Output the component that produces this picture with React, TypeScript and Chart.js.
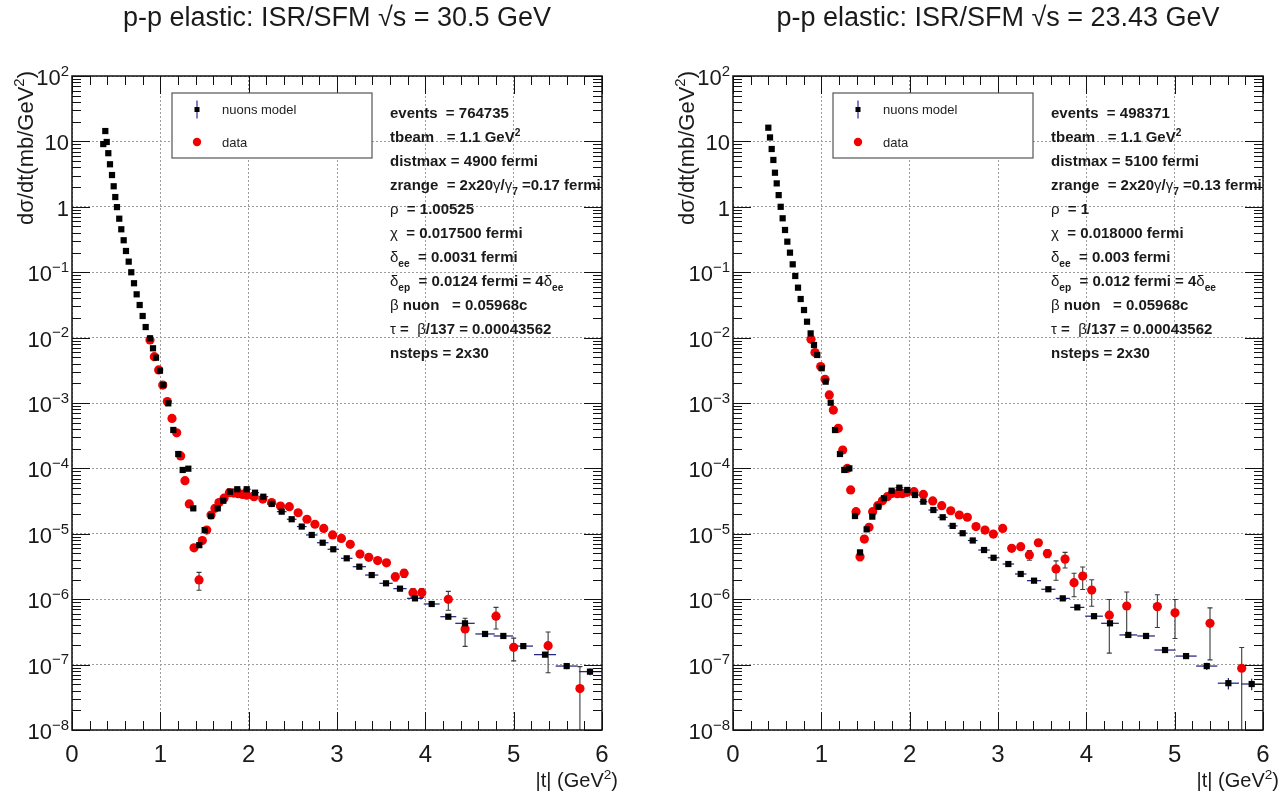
import React, { useEffect, useRef } from 'react';
import { Chart, registerables } from 'chart.js';

Chart.register(...registerables);

const FONT = '"Liberation Sans", Arial, Helvetica, sans-serif';

// ---------- shared axis / label data ----------
const xTickValues = [0, 1, 2, 3, 4, 5, 6];
const yTickExponents = [-8, -7, -6, -5, -4, -3, -2, -1, 0, 1, 2];
const legendLabels = ['nuons model', 'data'];
const yAxisTitle = 'dσ/dt(mb/GeV^{2})';
const xAxisTitle = '|t| (GeV^{2})';

// ---------- left panel: sqrt(s) = 30.5 GeV ----------
const leftTitle = 'p-p elastic: ISR/SFM √s = 30.5 GeV';
const leftModelT = [0.354, 0.377, 0.393, 0.411, 0.430, 0.453, 0.472, 0.490, 0.509, 0.535, 0.558, 0.585, 0.611, 0.642, 0.671, 0.702, 0.732, 0.766, 0.800, 0.834, 0.883, 0.917, 0.951, 0.996, 1.034, 1.090, 1.147, 1.203, 1.253, 1.317, 1.373, 1.441, 1.502, 1.574, 1.650, 1.713, 1.789, 1.871, 1.978, 2.072, 2.166, 2.261, 2.374, 2.487, 2.601, 2.714, 2.838, 2.958, 3.110, 3.253, 3.393, 3.555, 3.713, 3.883, 4.072, 4.260, 4.449, 4.676, 4.883, 5.109, 5.355, 5.600, 5.864];
const leftModelV = [9.1, 14.4, 9.8, 6.6, 4.47, 3.06, 2.06, 1.41, 0.99, 0.658, 0.453, 0.308, 0.211, 0.145, 0.0998, 0.0678, 0.0459, 0.0315, 0.0214, 0.0145, 0.00975, 0.00686, 0.00493, 0.00312, 0.00188, 0.000989, 0.000387, 0.000166, 9.46e-5, 9.9e-5, 2.45e-5, 6.7e-6, 1.14e-5, 1.87e-5, 2.45e-5, 3.2e-5, 4.4e-5, 4.8e-5, 4.8e-5, 4.25e-5, 3.69e-5, 2.86e-5, 2.18e-5, 1.67e-5, 1.29e-5, 9.6e-6, 7.3e-6, 5.8e-6, 4.22e-6, 3.14e-6, 2.34e-6, 1.75e-6, 1.45e-6, 1.03e-6, 8.45e-7, 5.4e-7, 4.28e-7, 2.94e-7, 2.74e-7, 1.92e-7, 1.42e-7, 9.5e-8, 7.8e-8];
const leftModelXErr = [0.01, 0.01, 0.01, 0.01, 0.01, 0.01, 0.01, 0.01, 0.01, 0.01, 0.01, 0.01, 0.01, 0.01, 0.01, 0.01, 0.01, 0.01, 0.01, 0.01, 0.02, 0.02, 0.02, 0.02, 0.02, 0.02, 0.02, 0.02, 0.03, 0.03, 0.03, 0.03, 0.03, 0.03, 0.03, 0.03, 0.045, 0.045, 0.045, 0.045, 0.055, 0.055, 0.055, 0.055, 0.055, 0.065, 0.065, 0.065, 0.065, 0.075, 0.075, 0.075, 0.075, 0.09, 0.09, 0.09, 0.11, 0.11, 0.11, 0.11, 0.125, 0.125, 0.125];
const leftModelYErr = [0, 0, 0, 0, 0, 0, 0, 0, 0, 0, 0, 0, 0, 0, 0, 0, 0, 0, 0, 0, 0, 0, 0, 0, 0, 0, 0, 0, 0, 0, 0, 0, 0, 0, 0, 0, 0, 0, 0, 0, 0, 0, 0, 0, 0, 0, 0, 0, 0, 0, 0, 0, 0, 0, 0, 0, 0, 0, 0, 1.5e-8, 1.2e-8, 1.0e-8, 0.9e-8];
const leftDataT = [0.883, 0.932, 0.981, 1.027, 1.079, 1.132, 1.185, 1.230, 1.279, 1.328, 1.381, 1.438, 1.475, 1.525, 1.574, 1.619, 1.664, 1.721, 1.781, 1.83, 1.88, 1.93, 1.98, 2.06, 2.16, 2.26, 2.36, 2.46, 2.56, 2.66, 2.75, 2.85, 2.95, 3.05, 3.15, 3.26, 3.36, 3.46, 3.56, 3.66, 3.76, 3.86, 3.96, 4.26, 4.45, 4.80, 5.00, 5.39, 5.75];
const leftDataV = [9.2e-3, 5.1e-3, 3.2e-3, 1.88e-3, 1.05e-3, 5.8e-4, 3.5e-4, 1.55e-4, 6.5e-5, 2.86e-5, 6.1e-6, 1.97e-6, 7.9e-6, 1.14e-5, 1.94e-5, 2.45e-5, 3.0e-5, 3.5e-5, 4.25e-5, 4.2e-5, 4.1e-5, 4.0e-5, 3.9e-5, 3.7e-5, 3.4e-5, 3.0e-5, 2.65e-5, 2.6e-5, 2.1e-5, 1.67e-5, 1.4e-5, 1.21e-5, 9.6e-6, 8.5e-6, 6.9e-6, 4.9e-6, 4.37e-6, 3.9e-6, 3.6e-6, 2.2e-6, 2.5e-6, 1.26e-6, 1.26e-6, 9.96e-7, 3.5e-7, 5.5e-7, 1.84e-7, 1.95e-7, 4.3e-8];
const leftDataErr = [0, 0, 0, 0, 0, 0, 0, 0, 0, 0, 0, 0.6e-6, 0, 0, 0, 0, 0, 0, 0, 0, 0, 0, 0, 0, 0, 0, 0, 0, 0, 0, 0, 0, 0, 0, 0, 0, 0, 0, 0, 0.3e-6, 0.35e-6, 0.2e-6, 0.2e-6, 3.2e-7, 1.6e-7, 2.0e-7, 7e-8, 1.2e-7, 5e-8];
const leftInfo = [
  'events  = 764735',
  'tbeam   = 1.1 GeV^{2}',
  'distmax = 4900 fermi',
  'zrange  = 2x20γ/γ_{7} =0.17 fermi',
  'ρ  = 1.00525',
  'χ  = 0.017500 fermi',
  'δ_{ee}  = 0.0031 fermi',
  'δ_{ep}  = 0.0124 fermi = 4δ_{ee}',
  'β nuon   = 0.05968c',
  'τ =  β/137 = 0.00043562',
  'nsteps = 2x30',
];

// ---------- right panel: sqrt(s) = 23.43 GeV ----------
const rightTitle = 'p-p elastic: ISR/SFM √s = 23.43 GeV';
const rightModelT = [0.400, 0.419, 0.438, 0.457, 0.475, 0.495, 0.517, 0.540, 0.562, 0.589, 0.615, 0.645, 0.676, 0.705, 0.736, 0.766, 0.804, 0.838, 0.879, 0.917, 0.954, 1.004, 1.049, 1.106, 1.155, 1.211, 1.260, 1.317, 1.381, 1.438, 1.513, 1.577, 1.645, 1.709, 1.796, 1.883, 1.973, 2.060, 2.155, 2.268, 2.374, 2.487, 2.600, 2.714, 2.842, 2.950, 3.117, 3.257, 3.408, 3.570, 3.733, 3.898, 4.087, 4.268, 4.475, 4.676, 4.891, 5.129, 5.363, 5.608, 5.872];
const rightModelV = [16.2, 11.5, 7.65, 5.2, 3.32, 2.28, 1.51, 1.0, 0.667, 0.442, 0.293, 0.199, 0.132, 0.0875, 0.058, 0.0389, 0.0264, 0.0175, 0.0116, 0.0077, 0.00542, 3.4e-3, 2.12e-3, 1.01e-3, 3.86e-4, 1.66e-4, 9.46e-5, 1.0e-4, 1.87e-5, 5.2e-6, 1.17e-5, 1.83e-5, 2.6e-5, 3.5e-5, 4.56e-5, 5.07e-5, 4.68e-5, 3.92e-5, 3.1e-5, 2.31e-5, 1.79e-5, 1.32e-5, 1.02e-5, 7.9e-6, 5.65e-6, 4.3e-6, 3.45e-6, 2.43e-6, 1.92e-6, 1.42e-6, 1.03e-6, 7.5e-7, 5.5e-7, 4.28e-7, 2.84e-7, 2.74e-7, 1.67e-7, 1.35e-7, 9.5e-8, 5.2e-8, 5.05e-8];
const rightModelXErr = [0.01, 0.01, 0.01, 0.01, 0.01, 0.01, 0.01, 0.01, 0.01, 0.01, 0.01, 0.01, 0.01, 0.01, 0.01, 0.01, 0.01, 0.01, 0.01, 0.01, 0.01, 0.02, 0.02, 0.02, 0.02, 0.02, 0.02, 0.02, 0.03, 0.03, 0.03, 0.03, 0.03, 0.03, 0.03, 0.045, 0.045, 0.045, 0.045, 0.055, 0.055, 0.055, 0.055, 0.055, 0.065, 0.065, 0.065, 0.065, 0.08, 0.08, 0.08, 0.08, 0.1, 0.1, 0.1, 0.1, 0.12, 0.12, 0.12, 0.12, 0.12];
const rightModelYErr = [0, 0, 0, 0, 0, 0, 0, 0, 0, 0, 0, 0, 0, 0, 0, 0, 0, 0, 0, 0, 0, 0, 0, 0, 0, 0, 0, 0, 0, 0, 0, 0, 0, 0, 0, 0, 0, 0, 0, 0, 0, 0, 0, 0, 0, 0, 0, 0, 0, 0, 0, 0, 0, 0, 0, 0, 1.5e-8, 1.3e-8, 1.2e-8, 1.05e-8, 1.0e-8];
const rightDataT = [0.883, 0.928, 0.993, 1.042, 1.090, 1.136, 1.192, 1.242, 1.294, 1.332, 1.393, 1.438, 1.487, 1.540, 1.581, 1.638, 1.691, 1.747, 1.804, 1.860, 1.917, 1.97, 2.049, 2.155, 2.261, 2.363, 2.465, 2.562, 2.653, 2.751, 2.853, 2.947, 3.053, 3.155, 3.257, 3.355, 3.457, 3.559, 3.657, 3.759, 3.861, 3.959, 4.061, 4.260, 4.457, 4.804, 5.004, 5.400, 5.759];
const rightDataV = [9.4e-3, 5.9e-3, 3.6e-3, 2.3e-3, 1.33e-3, 7.8e-4, 4.1e-4, 1.91e-4, 1.0e-4, 4.68e-5, 2.18e-5, 4.47e-6, 8.3e-6, 1.26e-5, 2.18e-5, 2.69e-5, 3.2e-5, 3.69e-5, 4.16e-5, 4.1e-5, 4.1e-5, 4.3e-5, 4.4e-5, 4.0e-5, 3.18e-5, 2.69e-5, 2.25e-5, 1.94e-5, 1.79e-5, 1.29e-5, 1.14e-5, 9.9e-6, 1.21e-5, 6.0e-6, 6.35e-6, 4.75e-6, 7.3e-6, 5.0e-6, 2.9e-6, 4.1e-6, 1.79e-6, 2.26e-6, 1.38e-6, 5.7e-7, 7.87e-7, 7.7e-7, 6.2e-7, 4.28e-7, 8.8e-8];
const rightDataErr = [0, 0, 0, 0, 0, 0, 0, 0, 0, 0, 0, 0.6e-6, 0, 0, 0, 0, 0, 0, 0, 0, 0, 0, 0, 0, 0, 0, 0, 0, 0, 0, 0, 0, 0, 0.6e-6, 0.6e-6, 0.8e-6, 0.8e-6, 0.7e-6, 0.95e-6, 1.1e-6, 0.7e-6, 0.85e-6, 0.6e-6, 4.2e-7, 5e-7, 4e-7, 3.7e-7, 3.1e-7, 9.5e-8];
const rightInfo = [
  'events  = 498371',
  'tbeam   = 1.1 GeV^{2}',
  'distmax = 5100 fermi',
  'zrange  = 2x20γ/γ_{7} =0.13 fermi',
  'ρ  = 1',
  'χ  = 0.018000 fermi',
  'δ_{ee}  = 0.003 fermi',
  'δ_{ep}  = 0.012 fermi = 4δ_{ee}',
  'β nuon   = 0.05968c',
  'τ =  β/137 = 0.00043562',
  'nsteps = 2x30',
];

// ---------- panel definitions ----------
type PanelDef = {
  title: string;
  modelT: number[]; modelV: number[]; modelXErr: number[]; modelYErr: number[];
  dataT: number[]; dataV: number[]; dataErr: number[];
  info: string[];
  canvasLeft: number; yWidth: number; padRight: number;
};

const panels: PanelDef[] = [
  { title: leftTitle, modelT: leftModelT, modelV: leftModelV, modelXErr: leftModelXErr, modelYErr: leftModelYErr,
    dataT: leftDataT, dataV: leftDataV, dataErr: leftDataErr, info: leftInfo, canvasLeft: 0, yWidth: 72, padRight: 42 },
  { title: rightTitle, modelT: rightModelT, modelV: rightModelV, modelXErr: rightModelXErr, modelYErr: rightModelYErr,
    dataT: rightDataT, dataV: rightDataV, dataErr: rightDataErr, info: rightInfo, canvasLeft: 644, yWidth: 89, padRight: 25 },
];

// ---------- rich text helpers ----------
type Run = { t: string; kind: 'n' | 'sub' | 'sup'; greek: boolean };
const GREEK = /[\u0370-\u03FF]/;

function richRuns(s: string): Run[] {
  const segs: { t: string; kind: 'n' | 'sub' | 'sup' }[] = [];
  let i = 0;
  let buf = '';
  while (i < s.length) {
    if ((s[i] === '^' || s[i] === '_') && s[i + 1] === '{') {
      if (buf) { segs.push({ t: buf, kind: 'n' }); buf = ''; }
      const end = s.indexOf('}', i);
      segs.push({ t: s.slice(i + 2, end), kind: s[i] === '^' ? 'sup' : 'sub' });
      i = end + 1;
    } else {
      buf += s[i];
      i++;
    }
  }
  if (buf) segs.push({ t: buf, kind: 'n' });
  const runs: Run[] = [];
  for (const seg of segs) {
    let cur = '';
    let curG: boolean | null = null;
    for (const ch of seg.t) {
      const g = GREEK.test(ch);
      if (curG === null || g === curG) { cur += ch; curG = g; }
      else { runs.push({ t: cur, kind: seg.kind, greek: !!curG }); cur = ch; curG = g; }
    }
    if (cur) runs.push({ t: cur, kind: seg.kind, greek: !!curG });
  }
  return runs;
}

function drawRich(ctx: CanvasRenderingContext2D, s: string, x: number, y: number, size: number,
  bold: boolean, align: 'left' | 'right' | 'center', color: string) {
  const runs = richRuns(s);
  const fontFor = (r: Run) => {
    const sz = r.kind === 'n' ? size : size * 0.68;
    return `${bold && !r.greek ? 'bold ' : ''}${sz}px ${FONT}`;
  };
  let total = 0;
  for (const r of runs) { ctx.font = fontFor(r); total += ctx.measureText(r.t).width; }
  let cx = align === 'left' ? x : align === 'right' ? x - total : x - total / 2;
  ctx.fillStyle = color;
  ctx.textAlign = 'left';
  ctx.textBaseline = 'alphabetic';
  for (const r of runs) {
    ctx.font = fontFor(r);
    const dy = r.kind === 'sup' ? -size * 0.42 : r.kind === 'sub' ? size * 0.3 : 0;
    ctx.fillText(r.t, cx, y + dy);
    cx += ctx.measureText(r.t).width;
  }
  return total;
}

// ---------- plugin for ROOT-style decorations ----------
function makeDecor(p: PanelDef) {
  return {
    id: 'decor',
    beforeDatasetsDraw(chart: any) {
      const ctx: CanvasRenderingContext2D = chart.ctx;
      const xs = chart.scales.x;
      const ys = chart.scales.y;
      const area = chart.chartArea;
      ctx.save();
      // model error bars (navy)
      ctx.strokeStyle = '#1c1c78';
      ctx.lineWidth = 1.2;
      p.modelT.forEach((t, i) => {
        const v = p.modelV[i];
        const py = ys.getPixelForValue(v);
        const xe = p.modelXErr[i];
        ctx.beginPath();
        ctx.moveTo(xs.getPixelForValue(t - xe), py);
        ctx.lineTo(xs.getPixelForValue(t + xe), py);
        ctx.stroke();
        const ye = p.modelYErr[i];
        if (ye > 0) {
          const px = xs.getPixelForValue(t);
          ctx.beginPath();
          ctx.moveTo(px, ys.getPixelForValue(v + ye));
          ctx.lineTo(px, v - ye > 0 ? ys.getPixelForValue(v - ye) : area.bottom);
          ctx.stroke();
        }
      });
      // data error bars (dark gray with caps)
      ctx.strokeStyle = '#3a3a3a';
      ctx.lineWidth = 1.1;
      p.dataT.forEach((t, i) => {
        const e = p.dataErr[i];
        if (!(e > 0)) return;
        const v = p.dataV[i];
        const px = xs.getPixelForValue(t);
        const top = ys.getPixelForValue(v + e);
        const low = v - e;
        const bottom = low > 1e-8 ? ys.getPixelForValue(low) : area.bottom;
        ctx.beginPath();
        ctx.moveTo(px, top);
        ctx.lineTo(px, bottom);
        ctx.moveTo(px - 2.5, top);
        ctx.lineTo(px + 2.5, top);
        if (low > 1e-8) { ctx.moveTo(px - 2.5, bottom); ctx.lineTo(px + 2.5, bottom); }
        ctx.stroke();
      });
      ctx.restore();
    },
    afterDraw(chart: any) {
      const ctx: CanvasRenderingContext2D = chart.ctx;
      const xs = chart.scales.x;
      const ys = chart.scales.y;
      const a = chart.chartArea;
      const textColor = '#1a1a1a';
      ctx.save();

      // tick marks inside the frame
      ctx.strokeStyle = '#111';
      ctx.lineWidth = 1;
      ctx.beginPath();
      for (let k = 0; k <= 30; k++) {
        const t = k * 0.2;
        const px = Math.round(xs.getPixelForValue(t)) + 0.5;
        const len = k % 5 === 0 ? 18 : 9;
        ctx.moveTo(px, a.bottom); ctx.lineTo(px, a.bottom - len);
        ctx.moveTo(px, a.top); ctx.lineTo(px, a.top + len);
      }
      for (const e of yTickExponents) {
        for (let m = 1; m <= 9; m++) {
          const v = m * Math.pow(10, e);
          if (v > 100.0001) continue;
          const py = Math.round(ys.getPixelForValue(v)) + 0.5;
          const len = m === 1 ? 18 : 9;
          ctx.moveTo(a.left, py); ctx.lineTo(a.left + len, py);
          ctx.moveTo(a.right, py); ctx.lineTo(a.right - len, py);
        }
      }
      ctx.stroke();

      // frame
      ctx.lineWidth = 1.5;
      ctx.strokeStyle = '#111';
      ctx.strokeRect(a.left, a.top, a.right - a.left, a.bottom - a.top);

      // y tick labels (powers of ten)
      for (const e of yTickExponents) {
        const py = ys.getPixelForValue(Math.pow(10, e));
        const label = e === 0 ? '1' : e === 1 ? '10' : `10^{${e < 0 ? '\u2212' : ''}${Math.abs(e)}}`;
        drawRich(ctx, label, a.left - 3, py + 9, 22, false, 'right', textColor);
      }

      // panel title
      drawRich(ctx, p.title, (a.left + a.right) / 2, 26, 27, false, 'center', textColor);

      // axis titles
      drawRich(ctx, xAxisTitle, a.right + 16, 787, 20, false, 'right', textColor);
      ctx.save();
      ctx.translate(a.left - 39, 71);
      ctx.rotate(-Math.PI / 2);
      drawRich(ctx, yAxisTitle, 0, 0, 22, false, 'right', textColor);
      ctx.restore();

      // legend box
      const lx = a.left + 100;
      const ly = a.top + 17;
      ctx.fillStyle = '#ffffff';
      ctx.fillRect(lx, ly, 200, 65);
      ctx.strokeStyle = '#555';
      ctx.lineWidth = 1.2;
      ctx.strokeRect(lx, ly, 200, 65);
      const mx = lx + 25;
      const r1 = ly + 16.5;
      const r2 = ly + 49;
      ctx.strokeStyle = '#2a2a90';
      ctx.lineWidth = 1.2;
      ctx.beginPath(); ctx.moveTo(mx, r1 - 9); ctx.lineTo(mx, r1 + 9); ctx.stroke();
      ctx.fillStyle = '#000';
      ctx.fillRect(mx - 2.5, r1 - 2.5, 5, 5);
      ctx.fillStyle = '#f00000';
      ctx.beginPath(); ctx.arc(mx, r2, 4.2, 0, Math.PI * 2); ctx.fill();
      drawRich(ctx, legendLabels[0], lx + 50, r1 + 4.5, 13, false, 'left', '#222');
      drawRich(ctx, legendLabels[1], lx + 50, r2 + 4.5, 13, false, 'left', '#222');

      // parameter text block
      p.info.forEach((line, i) => {
        drawRich(ctx, line, a.left + 318, 118 + i * 24, 15, true, 'left', textColor);
      });

      ctx.restore();
    },
  };
}

function Panel({ p }: { p: PanelDef }) {
  const ref = useRef<HTMLCanvasElement>(null);
  useEffect(() => {
    const canvas = ref.current;
    if (!canvas) return;
    const chart = new Chart(canvas, {
      type: 'scatter',
      data: {
        datasets: [
          {
            label: legendLabels[0],
            data: p.modelT.map((t, i) => ({ x: t, y: p.modelV[i] })),
            pointStyle: 'rect',
            pointRadius: 4.4,
            pointBackgroundColor: '#000000',
            pointBorderColor: '#000000',
            pointBorderWidth: 0,
            showLine: false,
            order: 0,
          },
          {
            label: legendLabels[1],
            data: p.dataT.map((t, i) => ({ x: t, y: p.dataV[i] })),
            pointStyle: 'circle',
            pointRadius: 4.6,
            pointBackgroundColor: '#f00000',
            pointBorderColor: '#f00000',
            pointBorderWidth: 0,
            showLine: false,
            order: 1,
          },
        ],
      },
      options: {
        responsive: false,
        animation: false,
        devicePixelRatio: 1,
        layout: { padding: { top: 76, right: p.padRight, bottom: 0, left: 0 } },
        plugins: {
          legend: { display: false },
          title: { display: false },
          tooltip: { enabled: false },
        },
        events: [],
        scales: {
          x: {
            type: 'linear',
            min: 0,
            max: 6,
            afterFit: (s: any) => { s.height = 65; },
            afterBuildTicks: (s: any) => { s.ticks = xTickValues.map((v) => ({ value: v })); },
            ticks: {
              padding: 11,
              color: '#1a1a1a',
              font: { size: 24, family: FONT },
              autoSkip: false,
              maxRotation: 0,
              callback: (v: any) => String(v),
            },
            grid: { display: true, color: '#9c9c9c', lineWidth: 1, drawTicks: false },
            border: { display: false, dash: [2, 2] },
          },
          y: {
            type: 'logarithmic',
            min: 1e-8,
            max: 100,
            afterFit: (s: any) => { s.width = p.yWidth; },
            afterBuildTicks: (s: any) => { s.ticks = yTickExponents.map((e) => ({ value: Math.pow(10, e) })); },
            ticks: { display: false },
            grid: { display: true, color: '#9c9c9c', lineWidth: 1, drawTicks: false },
            border: { display: false, dash: [2, 2] },
          },
        },
      } as any,
      plugins: [makeDecor(p)],
    });
    return () => chart.destroy();
  }, [p]);
  return (
    <canvas
      ref={ref}
      width={644}
      height={795}
      style={{ position: 'absolute', left: p.canvasLeft, top: 0, width: 644, height: 795 }}
    />
  );
}

export default function App() {
  return (
    <div style={{ position: 'absolute', left: 0, top: 0, width: 1288, height: 795, background: '#ffffff', overflow: 'hidden' }}>
      {panels.map((p, i) => (
        <Panel key={i} p={p} />
      ))}
    </div>
  );
}
